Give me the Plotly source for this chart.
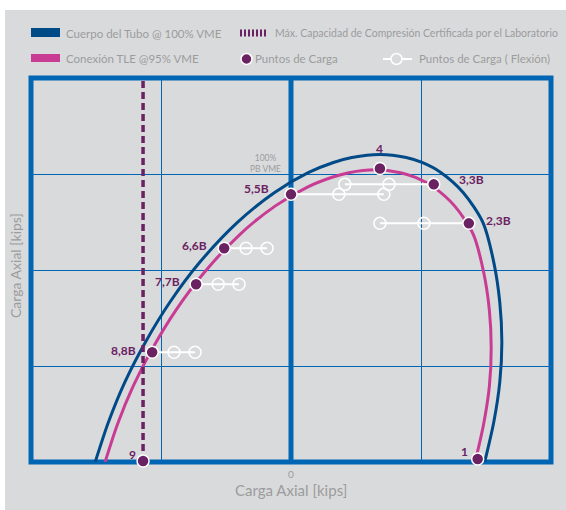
import plotly.graph_objects as go

# ---------------- data (kips) ----------------
# Pipe body @ 100% VME envelope
body_x = [-753, -702, -639, -560, -466, -351, -206, -63, 68, 163, 234, 342,
          443, 504, 576, 662, 738, 780, 803, 811, 803, 780, 745]
body_y = [0, 208, 416, 624, 832, 1040, 1248, 1404, 1508, 1560, 1586, 1602,
          1586, 1560, 1508, 1404, 1248, 1040, 832, 624, 416, 208, 0]

# TLE connection @ 95% VME envelope
conn_x = [-715, -667, -607, -532, -443, -333, -196, -60, 65, 155, 222, 325,
          421, 479, 547, 629, 701, 741, 763, 770, 763, 741, 708]
conn_y = [0, 198, 395, 593, 790, 988, 1186, 1334, 1433, 1482, 1507, 1522,
          1507, 1482, 1433, 1334, 1186, 988, 790, 593, 395, 198, 0]

# Max. certified compression capacity
max_compression = -569

# Load points
load_names = ["9", "8,8B", "7,7B", "6,6B", "5,5B", "4", "3,3B", "2,3B", "1"]
load_x = [-569, -534, -365, -257, 0, 342, 549, 684, 718]
load_y = [5, 572, 926, 1113, 1394, 1529, 1446, 1243, 16]

# Load points with bending (two open circles per bent load point)
flex_names = ["8,8B", "7,7B", "6,6B", "5,5B", "3,3B", "2,3B"]
flex_x1 = [-450, -280, -173, 184, 207, 342]
flex_x2 = [-369, -200, -92, 357, 377, 511]

# ---------------- styles ----------------
GRAY_BG = "#d9dadc"
BLUE = "#0066b3"
NAVY = "#004a87"
PINK = "#c83c94"
PURPLE = "#6b2262"
TXT = "#9c9c9c"
FONT = "Lato"

# plot area in pixels
L, R, T, B = 31, 551, 78, 462
W, H = R - L, B - T


def px(xp):
    return (xp - L) / W


def py(yp):
    return (B - yp) / H


fig = go.Figure()

fig.add_trace(go.Scatter(x=body_x, y=body_y, mode="lines",
                         line=dict(color=NAVY, width=3, shape="spline", smoothing=0.8),
                         hoverinfo="skip"))
fig.add_trace(go.Scatter(x=conn_x, y=conn_y, mode="lines",
                         line=dict(color=PINK, width=3, shape="spline", smoothing=0.8),
                         hoverinfo="skip"))
fig.add_trace(go.Scatter(x=[max_compression, max_compression], y=[0, 2000], mode="lines",
                         line=dict(color=PURPLE, width=3.5, dash="7px,4px"),
                         hoverinfo="skip"))

load_lookup = dict(zip(load_names, zip(load_x, load_y)))
for name, a, b in zip(flex_names, flex_x1, flex_x2):
    lx, ly = load_lookup[name]
    xs = [lx, a, b]
    fig.add_trace(go.Scatter(x=[min(xs), max(xs)], y=[ly, ly], mode="lines",
                             line=dict(color="white", width=2), hoverinfo="skip"))
    fig.add_trace(go.Scatter(x=[a, b], y=[ly, ly], mode="markers",
                             marker=dict(size=12, color="rgba(0,0,0,0)",
                                         line=dict(color="white", width=1.5)),
                             hoverinfo="skip"))

fig.add_trace(go.Scatter(x=load_x, y=load_y, mode="markers", cliponaxis=False,
                         marker=dict(size=12, color=PURPLE, line=dict(color="white", width=1.5)),
                         hoverinfo="skip"))

# point labels (offsets in px)
label_pos = {
    "9": ("right", -5, 7),
    "8,8B": ("right", -14, 2),
    "7,7B": ("right", -14, 3),
    "6,6B": ("right", -15, 3),
    "5,5B": ("right", -20, 6),
    "4": ("center", 0, 20),
    "3,3B": ("left", 23, 5),
    "2,3B": ("left", 15, 3),
    "1": ("right", -8, 7),
}
annotations = []
for name, x, y in zip(load_names, load_x, load_y):
    anc, dx, dy = label_pos[name]
    annotations.append(dict(x=x, y=y, xref="x", yref="y", text=name, showarrow=False,
                            xanchor=anc, yanchor="middle", xshift=dx, yshift=dy,
                            font=dict(family=FONT, size=12, color=PURPLE, weight="bold")))

annotations.append(dict(x=px(265), y=py(163), xref="paper", yref="paper",
                        text="100%<br>PB VME", showarrow=False, align="center",
                        xanchor="center", yanchor="middle",
                        font=dict(family=FONT, size=8.5, color=TXT)))

# axis titles
annotations.append(dict(x=px(291), y=py(490), xref="paper", yref="paper",
                        text="Carga Axial [kips]", showarrow=False,
                        xanchor="center", yanchor="middle",
                        font=dict(family=FONT, size=15, color=TXT)))
annotations.append(dict(x=px(15), y=py(266), xref="paper", yref="paper",
                        text="Carga Axial [kips]", showarrow=False, textangle=-90,
                        xanchor="center", yanchor="middle",
                        font=dict(family=FONT, size=14, color=TXT)))

# legend texts
for text, xp, yp, fs in [("Cuerpo del Tubo @ 100% VME", 64, 33, 11.5),
                         ("Máx. Capacidad de Compresión Certificada por el Laboratorio", 273, 33, 10.5),
                         ("Conexión TLE @95% VME", 64, 59, 11.5),
                         ("Puntos de Carga", 253, 59, 11.5),
                         ("Puntos de Carga ( Flexión)", 417, 59, 11.5)]:
    annotations.append(dict(x=px(xp), y=py(yp), xref="paper", yref="paper", text=text,
                            showarrow=False, xanchor="left", yanchor="middle",
                            font=dict(family=FONT, size=fs, color=TXT)))

shapes = [
    # gray panel
    dict(type="rect", xref="paper", yref="paper", x0=px(5), x1=px(566), y0=py(510), y1=py(10),
         fillcolor=GRAY_BG, line=dict(width=0), layer="below"),
    # legend symbols
    dict(type="rect", xref="paper", yref="paper", x0=px(31), x1=px(60), y0=py(37), y1=py(28),
         fillcolor=NAVY, line=dict(width=0)),
    dict(type="rect", xref="paper", yref="paper", x0=px(31), x1=px(60), y0=py(62), y1=py(54),
         fillcolor=PINK, line=dict(width=0)),
    dict(type="line", xref="paper", yref="paper", x0=px(240), x1=px(268), y0=py(33), y1=py(33),
         line=dict(color=PURPLE, width=7, dash="2px,2px")),
    dict(type="circle", xref="paper", yref="paper", x0=px(241), x1=px(252), y0=py(64.5), y1=py(53.5),
         fillcolor=PURPLE, line=dict(color="white", width=1.5)),
    dict(type="line", xref="paper", yref="paper", x0=px(383), x1=px(412), y0=py(59), y1=py(59),
         line=dict(color="white", width=2)),
    dict(type="circle", xref="paper", yref="paper", x0=px(391), x1=px(402), y0=py(64.5), y1=py(53.5),
         fillcolor=GRAY_BG, line=dict(color="white", width=1.5)),
    # center axis line and frame
    dict(type="line", xref="x", yref="paper", x0=0, x1=0, y0=0, y1=1,
         line=dict(color=BLUE, width=5), layer="between"),
    dict(type="rect", xref="paper", yref="paper", x0=0, x1=1, y0=0, y1=1,
         line=dict(color=BLUE, width=5), layer="between"),
]

fig.update_layout(
    width=566, height=510,
    margin=dict(l=L, r=566 - R, t=T, b=510 - B),
    paper_bgcolor="white", plot_bgcolor=GRAY_BG,
    showlegend=False,
    annotations=annotations, shapes=shapes,
    xaxis=dict(range=[-1000, 1000], tickvals=[-500, 0, 500], ticktext=["", "0", ""],
               showgrid=True, gridcolor=BLUE, gridwidth=1.3, zeroline=False, showline=False,
               ticks="outside", ticklen=3, tickcolor="rgba(0,0,0,0)",
               tickfont=dict(family=FONT, size=10, color=TXT), fixedrange=True),
    yaxis=dict(range=[0, 2000], tickvals=[500, 1000, 1500], showticklabels=False,
               showgrid=True, gridcolor=BLUE, gridwidth=1.3, zeroline=False, showline=False,
               fixedrange=True),
)

fig.write_html("out.html")
